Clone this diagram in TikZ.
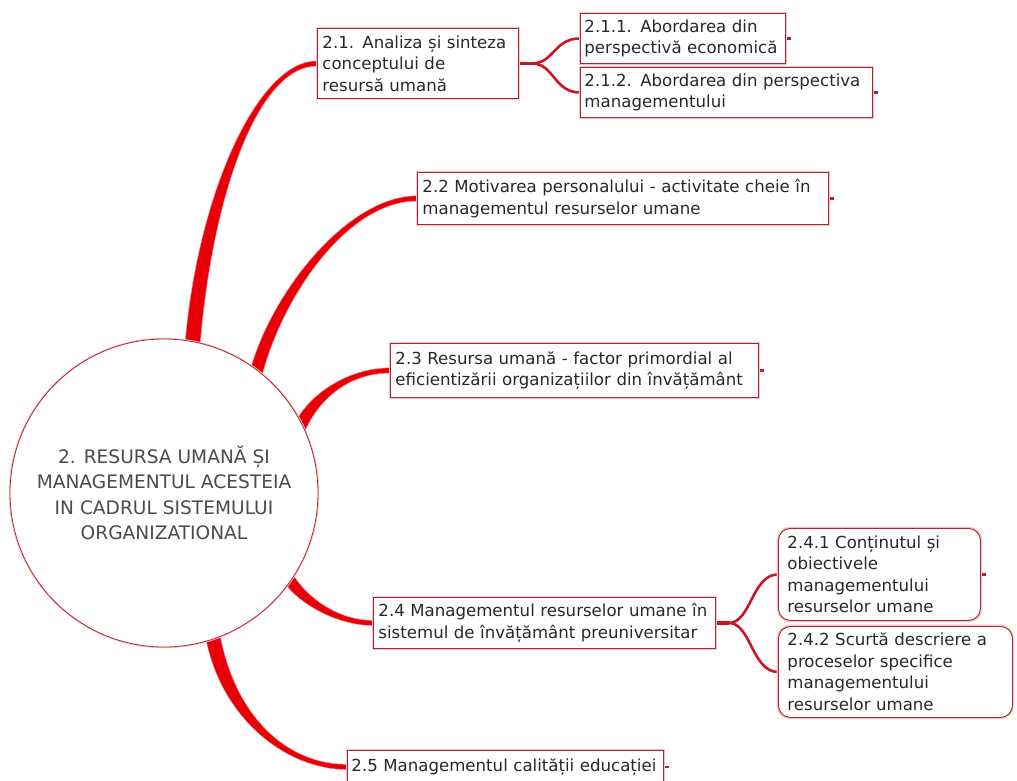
\documentclass[tikz,border=0pt]{standalone}
\usepackage{fontspec}
\setmainfont{DejaVu Sans}
\usetikzlibrary{calc}

\definecolor{branchred}{RGB}{232,0,8}
\definecolor{forkred}{RGB}{205,20,35}
\definecolor{boxred}{RGB}{175,35,50}
\definecolor{glowred}{RGB}{246,196,200}
\definecolor{inkgray}{RGB}{40,40,40}
\definecolor{capgray}{RGB}{75,75,75}

\pgfdeclarelayer{bg}
\pgfsetlayers{bg,main}

\newcommand\bodyfont{\fontsize{16.6}{21.5}\selectfont\hyphenpenalty=10000\exhyphenpenalty=10000}
\newcommand\hubfont{\fontsize{18.6}{25.5}\selectfont}

% tapered branch from the hub (#1) to a topic box (#2);
% #3 half-width offset at the hub, #4/#5 control vectors, #6 half-width at the box
\newcommand\drawbranch[6]{%
  \fill[branch] ($(c.center)!0.96!(#1)+#3$) .. controls +#4 and +#5 .. ($(#2)+(0,#6)$)
    -- ($(#2)-(0,#6)$) .. controls +#5 and +#4 .. ($(c.center)!0.96!(#1)-#3$) -- cycle;}

\begin{document}
\begin{tikzpicture}[x=1pt,y=-1pt,
  topic/.style={draw=boxred, line width=0.9pt, fill=white,
    preaction={draw=glowred, line width=3.5pt},
    inner xsep=5pt, inner ysep=3pt, align=left, text=inkgray,
    font=\bodyfont, anchor=north west},
  leaf/.style={topic, rounded corners=12pt, inner xsep=9pt},
  hub/.style={circle, draw=boxred, line width=0.8pt, fill=white,
    preaction={draw=glowred, line width=2.5pt},
    minimum size=308pt, inner sep=0pt, align=center, text=capgray, font=\hubfont},
  branch/.style={fill=branchred, draw=branchred!45, line width=0.5pt},
  fork/.style={draw=forkred, line width=2.6pt},
  stub/.style={draw=boxred, line width=2.8pt}]

\useasboundingbox (0,0) rectangle (1017,781);

% central topic
\node[hub] (c) at (164,493)
  {2. RESURSA UMANĂ ȘI\\MANAGEMENTUL ACESTEIA\\IN CADRUL SISTEMULUI\\ORGANIZATIONAL};

% main topics
\node[topic, minimum width=201pt, minimum height=70pt, text width=191pt] (b21) at (317,28)
  {2.1. Analiza și sinteza\\conceptului de\\resursă umană};
\node[topic, minimum width=411pt, minimum height=52pt, text width=401pt] (b22) at (417,172)
  {2.2 Motivarea personalului - activitate cheie în\\managementul resurselor umane};
\node[topic, minimum width=368pt, minimum height=54pt, text width=358pt] (b23) at (390,343)
  {2.3 Resursa umană - factor primordial al\\eficientizării organizațiilor din învățământ};
\node[topic, minimum width=342pt, minimum height=51pt, text width=332pt] (b24) at (373,597)
  {2.4 Managementul resurselor umane în\\sistemul de învățământ preuniversitar};
\node[topic, inner xsep=4pt, minimum width=316pt, minimum height=33pt, text width=308pt] (b25) at (347,750)
  {2.5 Managementul calității educației};

% subtopics
\node[topic, inner xsep=4pt, minimum width=205pt, minimum height=50pt, text width=197pt] (b211) at (580,13)
  {2.1.1. Abordarea din\\perspectivă economică};
\node[topic, inner xsep=4pt, minimum width=292pt, minimum height=50pt, text width=284pt] (b212) at (580,67)
  {2.1.2. Abordarea din perspectiva\\managementului};
\node[leaf, minimum width=202pt, minimum height=92pt, text width=184pt] (b241) at (778,528)
  {2.4.1 Conținutul și\\obiectivele\\managementului\\resurselor umane};
\node[leaf, minimum width=234pt, minimum height=91pt, text width=216pt] (b242) at (778,626)
  {2.4.2 Scurtă descriere a\\proceselor specifice\\managementului\\resurselor umane};

\begin{pgfonlayer}{bg}
  % tapered branches from the central topic
  \drawbranch{c.79}{b21.west}{(7.5,0.6)}{(12,-150)}{(-60,0)}{2.6}
  \drawbranch{c.52}{b22.west}{(6.2,1.6)}{(20,-80)}{(-70,0)}{2.6}
  \drawbranch{c.25}{b23.west}{(5.8,2.4)}{(15,-35)}{(-40,0)}{2.6}
  \drawbranch{c.326}{b24.west}{(-5,3)}{(15,25)}{(-35,0)}{2.6}
  \drawbranch{c.289}{b25.west}{(-7.2,1.3)}{(15,85)}{(-60,0)}{2.6}

  % forks to the subtopics
  \draw[fork, line width=3.6pt] (b21.east) -- ++(13,0) coordinate (f21);
  \draw[fork] (f21) .. controls +(22,0) and +(-26,0) .. (b211.west);
  \draw[fork] (f21) .. controls +(22,0) and +(-26,0) .. (b212.west);
  \draw[fork, line width=3.6pt] (b24.east) -- ++(13,0) coordinate (f24);
  \draw[fork] (f24) .. controls +(22,0) and +(-26,0) .. (b241.west);
  \draw[fork] (f24) .. controls +(22,0) and +(-26,0) .. (b242.west);

  % collapsed-branch stubs
  \draw[stub] (b211.east) -- ++(5,0);
  \draw[stub] (b212.east) -- ++(5,0);
  \draw[stub] (b22.east) -- ++(5,0);
  \draw[stub] (b23.east) -- ++(5,0);
  \draw[stub] (b241.east) -- ++(5,0);
  \draw[stub] (b25.east) -- ++(5,0);
\end{pgfonlayer}
\end{tikzpicture}
\end{document}
